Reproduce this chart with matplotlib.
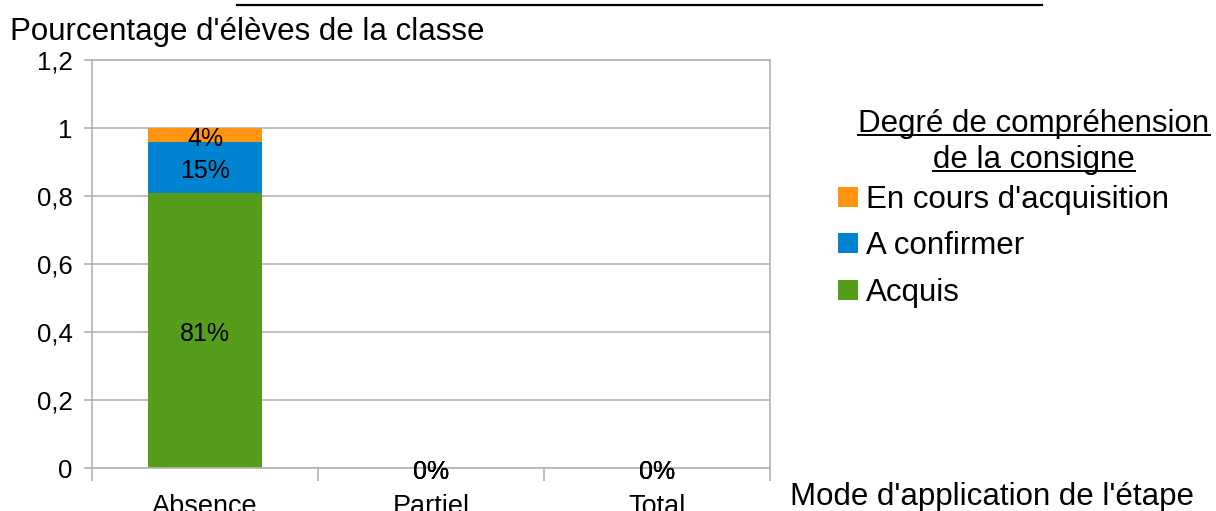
import matplotlib
matplotlib.use("Agg")
import matplotlib.pyplot as plt
from matplotlib.lines import Line2D
from matplotlib.patches import Rectangle
from matplotlib.ticker import FuncFormatter

plt.rcParams['font.family'] = ['Liberation Sans', 'DejaVu Sans']

categories = ['Absence', 'Partiel', 'Total']
acquis = [0.81, 0.0, 0.0]
a_confirmer = [0.15, 0.0, 0.0]
en_cours = [0.04, 0.0, 0.0]

series = [
    ('Acquis', acquis, '#579d1c'),
    ('A confirmer', a_confirmer, '#0084d1'),
    ("En cours d'acquisition", en_cours, '#ff950e'),
]

W, H = 1216, 511
fig = plt.figure(figsize=(W / 100, H / 100), dpi=100)
ax = fig.add_axes([92 / W, (H - 468) / H, (770 - 92) / W, (468 - 60) / H])

x = list(range(len(categories)))
bottom = [0.0] * len(categories)
for name, vals, col in series:
    bars = ax.bar(x, vals, width=0.505, bottom=bottom, color=col, label=name, zorder=2)
    ax.bar_label(bars, labels=[f"{v:.0%}" for v in vals], label_type='center',
                 fontsize=18, color='black', zorder=3, padding=-3)
    bottom = [b + v for b, v in zip(bottom, vals)]

ax.set_xlim(-0.5, 2.5)
ax.set_ylim(0, 1.2)
ax.set_yticks([0, 0.2, 0.4, 0.6, 0.8, 1.0, 1.2])
ax.yaxis.set_major_formatter(FuncFormatter(lambda v, p: f"{v:g}".replace('.', ',')))
ax.grid(axis='y', color='#b3b3b3', linewidth=1.2, zorder=0)
ax.set_axisbelow(True)
for s in ax.spines.values():
    s.set_color('#b3b3b3')
    s.set_linewidth(1.2)

ax.set_xticks(x)
ax.set_xticklabels(categories)
ax.set_xticks([-0.5, 0.5, 1.5, 2.5], minor=True)
ax.tick_params(axis='x', which='major', length=0, pad=19, labelsize=19.5)
ax.tick_params(axis='x', which='minor', length=9, color='#b3b3b3', width=1.2)
ax.tick_params(axis='y', length=6, color='#b3b3b3', width=1.2, labelsize=18.5, pad=8)

fig.text(10 / W, 1 - 32 / H, "Pourcentage d'élèves de la classe", fontsize=22.5,
         ha='left', va='center')
fig.text(790 / W, 1 - 497 / H, "Mode d'application de l'étape", fontsize=22.5,
         ha='left', va='center')

# clipped title underline at the very top
fig.add_artist(Line2D([237 / W, 1042 / W], [1 - 5 / H, 1 - 5 / H], color='black', linewidth=1.6))

# legend, drawn by hand
t1 = fig.text(1034 / W, 1 - 124 / H, "Degré de compréhension", fontsize=22.5, ha='center', va='center')
t2 = fig.text(1034 / W, 1 - 160 / H, "de la consigne", fontsize=22.5, ha='center', va='center')
fig.canvas.draw()
r = fig.canvas.get_renderer()
for t in (t1, t2):
    bb = t.get_window_extent(r).transformed(fig.transFigure.inverted())
    yy = bb.y0 + 4 / H
    fig.add_artist(Line2D([bb.x0, bb.x1], [yy, yy], color='black', linewidth=1.4))

leg_y = [197, 243, 290]
for (name, vals, col), yc in zip(series[::-1], leg_y):
    fig.add_artist(Rectangle((838 / W, 1 - (yc + 10) / H), 20 / W, 20 / H,
                             facecolor=col, edgecolor='none', transform=fig.transFigure))
    fig.text(866 / W, 1 - (yc + 3) / H, name, fontsize=22.5, ha='left', va='center')

fig.savefig('out.png', dpi=100)
